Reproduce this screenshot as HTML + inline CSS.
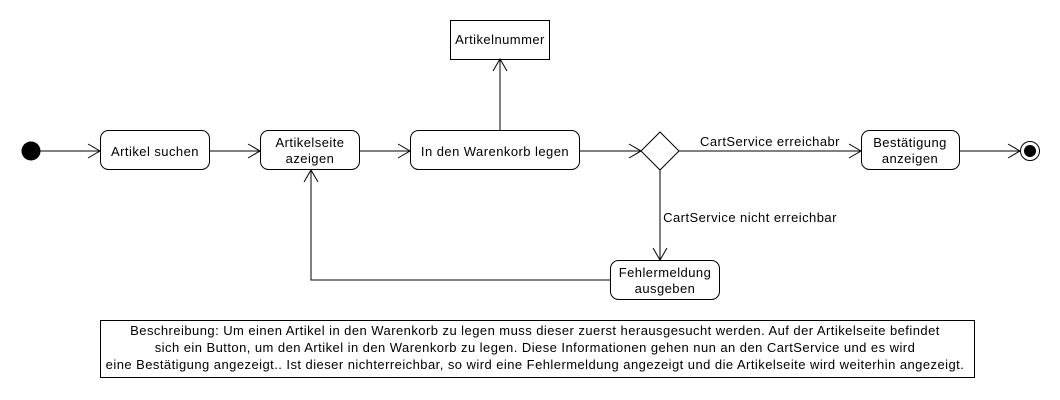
<!DOCTYPE html>
<html><head><meta charset="utf-8"><style>
html,body{margin:0;padding:0;background:#fff;}
svg{display:block;font-family:"Liberation Sans",Arial,sans-serif;font-size:13px;}
text{letter-spacing:0.45px;}
</style></head><body>
<svg width="1060" height="400" viewBox="0 0 1060 400" xmlns="http://www.w3.org/2000/svg">
<g fill="none" stroke="#000" stroke-width="1">
<line x1="31" y1="151" x2="100" y2="151"/><polyline points="88,144 100,151 88,158"/>
<line x1="209" y1="151" x2="260" y2="151"/><polyline points="248,144 260,151 248,158"/>
<line x1="359" y1="151" x2="410" y2="151"/><polyline points="398,144 410,151 398,158"/>
<line x1="579" y1="151" x2="641" y2="151"/><polyline points="629,144 641,151 629,158"/>
<line x1="679" y1="151" x2="861" y2="151"/><polyline points="849,144 861,151 849,158"/>
<line x1="959" y1="151" x2="1020" y2="151"/><polyline points="1008,144 1020,151 1008,158"/>
<line x1="500" y1="130" x2="500" y2="59"/><polyline points="493,71 500,59 507,71"/>
<line x1="660" y1="170" x2="660" y2="260"/><polyline points="653,248 660,260 667,248"/>
<polyline points="610,280 311,280 311,170"/><polyline points="304,182 311,170 318,182"/>
<rect x="100.5" y="130.5" width="109" height="39" rx="8"/>
<rect x="260.5" y="130.5" width="99" height="39" rx="8"/>
<rect x="410.5" y="130.5" width="169" height="39" rx="8"/>
<rect x="861.5" y="130.5" width="98" height="39" rx="8"/>
<rect x="610.5" y="260.5" width="109" height="39" rx="8"/>
<rect x="450.5" y="20.5" width="99" height="39"/>
<polygon points="660,132 679,151 660,170 641,151"/>
<rect x="100.5" y="320.5" width="874" height="57"/>
<circle cx="1030" cy="151" r="9.5"/>
</g>
<circle cx="31" cy="151" r="9.5" fill="#000"/>
<circle cx="1030" cy="151" r="6" fill="#000"/>
<g fill="#000" text-anchor="middle">
<text x="155" y="156">Artikel suchen</text>
<text x="310" y="147">Artikelseite</text><text x="310" y="163">azeigen</text>
<text x="495" y="156">In den Warenkorb legen</text>
<text x="500" y="44">Artikelnummer</text>
<text x="910" y="147">Bestätigung</text><text x="910" y="163">anzeigen</text>
<text x="665" y="277">Fehlermeldung</text><text x="665" y="293">ausgeben</text>
<text x="770" y="146">CartService erreichabr</text>
<text x="750" y="222">CartService nicht erreichbar</text>
<text x="535" y="335">Beschreibung: Um einen Artikel in den Warenkorb zu legen muss dieser zuerst herausgesucht werden. Auf der Artikelseite befindet</text>
<text x="535" y="352">sich ein Button, um den Artikel in den Warenkorb zu legen. Diese Informationen gehen nun an den CartService und es wird</text>
<text x="535" y="369">eine Bestätigung angezeigt.. Ist dieser nichterreichbar, so wird eine Fehlermeldung angezeigt und die Artikelseite wird weiterhin angezeigt.</text>
</g>
</svg>
</body></html>
